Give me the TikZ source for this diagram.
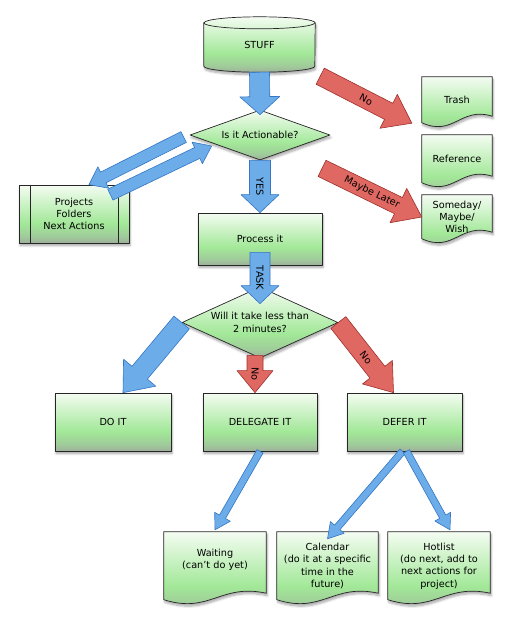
\documentclass[tikz,border=0pt]{standalone}
\usepackage{fontspec}
\setmainfont{DejaVu Sans}
\usetikzlibrary{calc,shapes.geometric,shadows.blur}
\pgfdeclarelayer{bg}
\pgfsetlayers{bg,main}
\definecolor{gtdtop}{RGB}{244,252,242}
\definecolor{gtdgreen}{RGB}{162,232,152}
\definecolor{gtdgray}{RGB}{158,176,156}
\definecolor{flowblue}{RGB}{108,172,232}
\definecolor{flowblueline}{RGB}{52,118,196}
\definecolor{flowred}{RGB}{224,104,98}
\definecolor{flowredline}{RGB}{158,48,44}
\pgfdeclareverticalshading{gtd}{100bp}{color(0bp)=(gtdgray); color(25bp)=(gtdgray); color(31bp)=(gtdgray!50!gtdgreen); color(42bp)=(gtdgreen); color(75bp)=(gtdtop); color(100bp)=(gtdtop)}
\tikzset{
  gtdshadow/.style={blur shadow={shadow xshift=1pt,shadow yshift=-2.5pt,shadow blur steps=6,shadow opacity=35}},
  line/.style={draw=black!85,line width=0.7pt},
  box/.style={line,shade,shading=gtd,gtdshadow,align=center,inner sep=0pt},
  decision/.style={box,diamond,aspect=2.5},
  docnode/.style={align=center,inner sep=0pt},
  bluearrow/.style={fill=flowblue,draw=flowblueline,line width=0.6pt},
  redarrow/.style={fill=flowred,draw=flowredline,line width=0.6pt},
  arrowtext/.style={inner sep=0pt}
}
% paper with a wavy lower edge, #1 = depth of the wave under the node
\newcommand\docshape[2][4pt]{%
  \shade[line,shading=gtd,gtdshadow] (#2.north west) -- (#2.north east)
    -- ([yshift=11pt-#1]#2.south east)
    .. controls ([yshift=21pt-#1]$(#2.south west)!0.55!(#2.south east)$) and ([yshift=-10pt-#1]$(#2.south west)!0.45!(#2.south east)$) .. ([yshift=4.5pt-#1]#2.south west) -- cycle;}
% block arrow: [text]{style}{from}{to}{half shaft}{half head}{head length}
\newcommand\flowarrow[7][]{%
  \coordinate (ta) at (#3);
  \coordinate (tb) at (#4);
  \coordinate (hb) at ($(tb)!#7!(ta)$);
  \filldraw[#2] ($(ta)!#5!90:(tb)$) -- ($(hb)!#5!-90:(ta)$) -- ($(hb)!#6!-90:(ta)$) -- (tb)
    -- ($(hb)!#6!90:(ta)$) -- ($(hb)!#5!90:(ta)$) -- ($(ta)!#5!-90:(tb)$) -- cycle;
  \path (ta) -- (tb) node[midway,sloped,arrowtext] {#1};}

\begin{document}
\begin{tikzpicture}[x=1pt,y=-1pt,font=\fontsize{9.7}{12.3}\selectfont,line join=round]
\useasboundingbox (0,0) rectangle (510,630);
\node[minimum width=111,minimum height=55] (stuff) at (259.5,44.5) {STUFF};
\node[decision,minimum width=140,minimum height=50] (act) at (260,135) {Is it Actionable?};
\node[box,minimum width=124,minimum height=52] (proc) at (260,239) {Process it};
\node[box,minimum width=110,minimum height=58] (proj) at (74,214) {Projects\\Folders\\Next Actions};
\node[decision,minimum width=156,minimum height=71] (quick) at (260,322.5) {Will it take less than\\2 minutes?};
\node[box,minimum width=116,minimum height=58] (doit) at (113,422) {DO IT};
\node[box,minimum width=114,minimum height=58] (deleg) at (260,422) {DELEGATE IT};
\node[box,minimum width=115,minimum height=58] (defer) at (404.5,422) {DEFER IT};
\node[docnode,minimum width=70,minimum height=46] (trash) at (457,100) {Trash};
\node[docnode,minimum width=70,minimum height=48] (ref) at (457,159) {Reference};
\node[docnode,minimum width=70,minimum height=44] (some) at (457,217) {Someday/\\Maybe/\\Wish};
\node[docnode,minimum width=102,minimum height=56] (wait) at (215,560) {Waiting\\(can't do yet)};
\node[docnode,minimum width=101,minimum height=68] (cal) at (327.5,566) {Calendar\\(do it at a specific\\time in the\\future)};
\node[docnode,minimum width=102,minimum height=68] (hot) at (439,566) {Hotlist\\(do next, add to\\next actions for\\project)};
\draw[line] ([xshift=12pt]proj.north west) -- ([xshift=12pt]proj.south west)
  ([xshift=-11pt]proj.north east) -- ([xshift=-11pt]proj.south east);
\begin{pgfonlayer}{bg}
\shade[line,shading=gtd,gtdshadow] ([yshift=-6pt]stuff.north west) -- ([yshift=6pt]stuff.south west)
  arc[start angle=180,end angle=360,x radius=55.5pt,y radius=6pt] -- ([yshift=-6pt]stuff.north east)
  arc[start angle=0,end angle=180,x radius=55.5pt,y radius=6pt] -- cycle;
\draw[line] ([yshift=-6pt]stuff.north west) arc[start angle=180,end angle=360,x radius=55.5pt,y radius=6pt];
\docshape{trash}
\docshape{ref}
\docshape{some}
\docshape[16pt]{wait}
\docshape{cal}
\docshape{hot}
\end{pgfonlayer}
% arrows
\flowarrow{bluearrow}{stuff.south}{[yshift=-5pt]act.north}{10pt}{20pt}{18pt}
\flowarrow[No]{redarrow}{[xshift=5pt,yshift=-4pt]stuff.south east}{[xshift=-10pt]trash.south west}{9pt}{19pt}{26pt}
\flowarrow[Maybe Later]{redarrow}{[xshift=62pt,yshift=-8pt]act.south}{some.west}{9pt}{19pt}{26pt}
\flowarrow{bluearrow}{[xshift=-6pt,yshift=-2pt]act.west}{[xshift=15pt]proj.north}{6pt}{12pt}{16pt}
\flowarrow{bluearrow}{[xshift=-19pt,yshift=-10pt]proj.north east}{[xshift=22pt,yshift=-11pt]act.west}{6pt}{12pt}{16pt}
\flowarrow[YES]{bluearrow}{act.south}{proc.north}{10.5pt}{19pt}{18pt}
\flowarrow[TASK]{bluearrow}{[yshift=13pt]proc.south}{[yshift=-17pt]quick.north}{10pt}{19pt}{18pt}
\flowarrow{bluearrow}{quick.west}{[xshift=10pt]doit.north}{10pt}{21pt}{26pt}
\flowarrow[No]{redarrow}{[xshift=-5pt,yshift=3pt]quick.south}{[xshift=-5pt]deleg.north}{8pt}{18pt}{22pt}
\flowarrow[No]{redarrow}{quick.east}{[xshift=-11pt]defer.north}{9.5pt}{19pt}{26pt}
\flowarrow{bluearrow}{deleg.south}{[yshift=2pt]wait.north}{3.5pt}{9pt}{15pt}
\flowarrow{bluearrow}{[xshift=-2pt]defer.south}{[yshift=-7pt]cal.north}{3.5pt}{9pt}{15pt}
\flowarrow{bluearrow}{[xshift=2pt]defer.south}{[xshift=11pt,yshift=2pt]hot.north}{3.5pt}{9pt}{15pt}
\end{tikzpicture}
\end{document}
